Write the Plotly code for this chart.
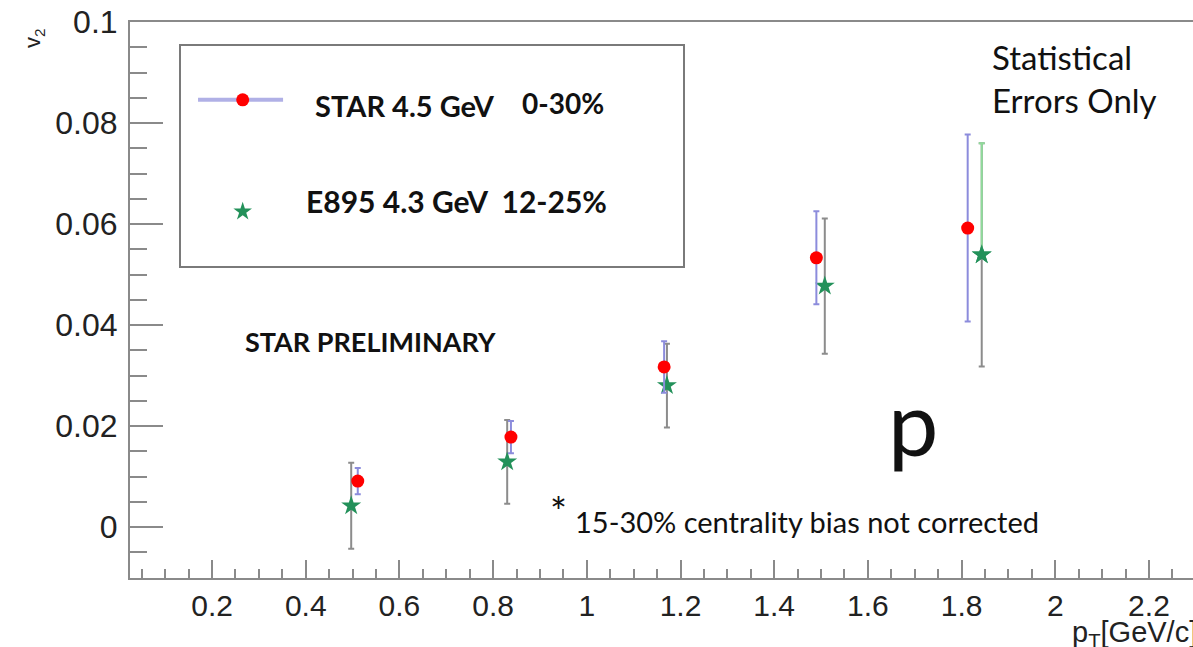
import plotly.graph_objects as go

# ---- data ----
star_pt = [0.511, 0.838, 1.165, 1.490, 1.813]
star_v2 = [0.0091, 0.0178, 0.0317, 0.0533, 0.0592]
star_err = [0.0026, 0.0032, 0.0051, 0.0092, 0.0185]

e895_pt = [0.497, 0.830, 1.171, 1.508, 1.843]
e895_v2 = [0.0042, 0.0129, 0.0280, 0.0477, 0.0539]
e895_err = [0.0085, 0.0083, 0.0083, 0.0134, 0.0221]

x_ticks = [0.2, 0.4, 0.6, 0.8, 1.0, 1.2, 1.4, 1.6, 1.8, 2.0, 2.2]
x_ticklabels = ["0.2", "0.4", "0.6", "0.8", "1", "1.2", "1.4", "1.6", "1.8", "2", "2.2"]
y_ticks = [0, 0.02, 0.04, 0.06, 0.08, 0.1]
y_ticklabels = ["0", "0.02", "0.04", "0.06", "0.08", "0.1"]

AX = "#8a8a8a"
TXT = "Lato"

fig = go.Figure()

# E895 (gray bars, green stars)
fig.add_trace(go.Scatter(
    x=e895_pt, y=e895_v2, mode="markers",
    marker=dict(symbol="star", size=15, color="#23915a"),
    error_y=dict(type="data", array=e895_err, color="#8c8c8c", thickness=2, width=3),
    showlegend=False))
# light green upper half on the last E895 point
fig.add_trace(go.Scatter(
    x=e895_pt[-1:], y=e895_v2[-1:], mode="markers",
    marker=dict(symbol="star", size=15, color="#23915a"),
    error_y=dict(type="data", symmetric=False, array=e895_err[-1:], arrayminus=[0],
                 color="#8fdc9a", thickness=2, width=3),
    showlegend=False))
# STAR (blue bars, red dots)
fig.add_trace(go.Scatter(
    x=star_pt, y=star_v2, mode="markers",
    marker=dict(symbol="circle", size=13, color="#ff0000"),
    error_y=dict(type="data", array=star_err, color="#8c8cdc", thickness=2, width=3),
    showlegend=False))

# legend samples on a hidden paper-like axis pair
fig.add_trace(go.Scatter(
    x=[0.064, 0.144], y=[0.860, 0.860], mode="lines",
    line=dict(color="#b0b0e6", width=4), xaxis="x2", yaxis="y2", showlegend=False,
    hoverinfo="skip"))
fig.add_trace(go.Scatter(
    x=[0.106], y=[0.860], mode="markers", marker=dict(symbol="circle", size=13, color="#ff0000"),
    xaxis="x2", yaxis="y2", showlegend=False, hoverinfo="skip"))
fig.add_trace(go.Scatter(
    x=[0.106], y=[0.659], mode="markers", marker=dict(symbol="star", size=14, color="#23915a"),
    xaxis="x2", yaxis="y2", showlegend=False, hoverinfo="skip"))

fig.update_layout(
    width=1193, height=647,
    margin=dict(l=130, r=0, t=22, b=69),
    paper_bgcolor="white", plot_bgcolor="white",
    xaxis=dict(range=[0.0248, 2.294], tickmode="array", tickvals=x_ticks, ticktext=x_ticklabels,
               ticks="inside", ticklen=18, tickwidth=2, tickcolor=AX,
               showline=True, linecolor=AX, linewidth=2, mirror=True,
               showgrid=False, zeroline=False,
               tickfont=dict(family="Liberation Sans", size=30, color="#222"),
               ticklabelstandoff=0,
               minor=dict(dtick=0.05, tick0=0, ticks="inside", ticklen=9, tickwidth=2, tickcolor=AX)),
    yaxis=dict(range=[-0.0101, 0.1], tickmode="array", tickvals=y_ticks, ticktext=y_ticklabels,
               ticks="inside", ticklen=33, tickwidth=2, tickcolor=AX,
               showline=True, linecolor=AX, linewidth=2,
               showgrid=False, zeroline=False,
               tickfont=dict(family="Liberation Sans", size=32, color="#222"),
               ticklabelstandoff=4,
               minor=dict(dtick=0.005, tick0=0, ticks="inside", ticklen=17, tickwidth=2, tickcolor=AX)),
    xaxis2=dict(range=[0, 1], domain=[0, 1], anchor="y2", overlaying="x", visible=False),
    yaxis2=dict(range=[0, 1], domain=[0, 1], anchor="x2", overlaying="y", visible=False),
    shapes=[dict(type="rect", xref="paper", yref="paper",
                 x0=(180 - 130) / 1063, x1=(684 - 130) / 1063,
                 y0=(578 - 267) / 556, y1=(578 - 45) / 556,
                 line=dict(color="#7a7a7a", width=2), fillcolor="rgba(0,0,0,0)")],
)

def ann(text, x, y, size, bold=False, xanchor="left", yanchor="middle", family=TXT, angle=0, color="#111"):
    fig.add_annotation(text=f"<b>{text}</b>" if bold else text, x=x, y=y, xref="paper", yref="paper",
                       xanchor=xanchor, yanchor=yanchor, showarrow=False, textangle=angle, align="left",
                       font=dict(family=family, size=size, color=color))

def px(xp):
    return (xp - 130) / 1063

def py(yp):
    return (578 - yp) / 556

ann("STAR 4.5 GeV", px(313), py(106), 29, bold=True)
ann("0-30%", px(520), py(103), 28, bold=True)
ann("E895 4.3 GeV  12-25%", px(304), py(201), 30, bold=True)
ann("STAR PRELIMINARY", px(243), py(341), 27, bold=True)
ann("Statistical<br>Errors Only", px(990), py(78), 33)
ann("p", px(886), py(421), 90)
ann("*", px(548), py(512), 40)
ann("15-30% centrality bias not corrected", px(573), py(521), 29)
ann("p<sub>T</sub>[GeV/c]", px(1199), py(634), 29, xanchor="right", family="Liberation Sans", color="#222")
ann("v<sub>2</sub>", px(18), py(38), 22, angle=-90, family="Liberation Sans", color="#222")

fig.write_html("out.html", config={"displayModeBar": False},
               post_script="document.body.style.margin='0';document.body.style.overflow='hidden';")
